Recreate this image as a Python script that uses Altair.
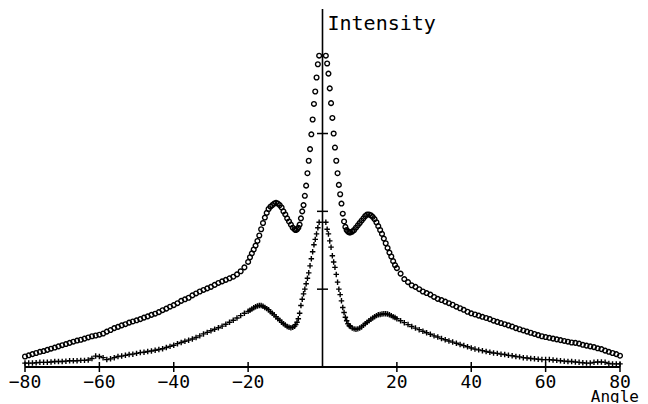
import altair as alt
import pandas as pd

# ---- sampling grid of the scan (degrees, positive side) ----
center_grid = [round(0.9 + 0.35 * i, 2) for i in range(19)]    # 0.9 .. 7.2
mid_grid = [round(7.5 + 0.5 * i, 1) for i in range(25)]         # 7.5 .. 19.5
tail_grid = [float(20 + i) for i in range(61)]                  # 20 .. 80
pos_angles = center_grid + mid_grid + tail_grid
neg_angles = [-a for a in reversed(pos_angles)]

# ---- series "o" (circles) ----
circles_left = [
    # -80 .. -20
    0.135, 0.15, 0.165, 0.18, 0.195, 0.205, 0.22, 0.235, 0.25, 0.265,
    0.28, 0.295, 0.31, 0.325, 0.34, 0.35, 0.365, 0.38, 0.395, 0.405,
    0.415, 0.43, 0.455, 0.475, 0.50, 0.515, 0.535, 0.55, 0.57, 0.585,
    0.60, 0.615, 0.635, 0.65, 0.67, 0.685, 0.705, 0.73, 0.75, 0.775,
    0.795, 0.82, 0.85, 0.87, 0.89, 0.92, 0.945, 0.97, 0.99, 1.01,
    1.03, 1.055, 1.08, 1.10, 1.12, 1.14, 1.16, 1.19, 1.23, 1.28,
    1.35,
    # -19.5 .. -7.5
    1.41, 1.46, 1.51, 1.56, 1.62, 1.69, 1.77, 1.85, 1.92, 1.98,
    2.03, 2.06, 2.08, 2.10, 2.11, 2.10, 2.08, 2.05, 2.00, 1.96,
    1.91, 1.87, 1.83, 1.79, 1.77,
    # -7.2 .. -0.9
    1.76, 1.77, 1.79, 1.83, 1.91, 2.00, 2.08, 2.20, 2.33, 2.49,
    2.65, 2.80, 2.99, 3.18, 3.38, 3.54, 3.72, 3.89, 4.00,
]
circles_right = [
    # 0.9 .. 7.2
    4.00, 3.90, 3.77, 3.58, 3.39, 3.20, 3.00, 2.82, 2.65, 2.49,
    2.34, 2.22, 2.10, 1.97, 1.87, 1.80, 1.76, 1.74, 1.73,
    # 7.5 .. 19.5
    1.73, 1.74, 1.76, 1.79, 1.82, 1.85, 1.88, 1.91, 1.94, 1.96,
    1.96, 1.95, 1.93, 1.90, 1.86, 1.81, 1.76, 1.71, 1.65, 1.59,
    1.53, 1.47, 1.42, 1.36, 1.31,
    # 20 .. 80
    1.27, 1.20, 1.13, 1.09, 1.05, 1.03, 1.00, 0.97, 0.95, 0.93,
    0.90, 0.875, 0.86, 0.84, 0.82, 0.80, 0.775, 0.755, 0.735, 0.71,
    0.69, 0.675, 0.66, 0.645, 0.63, 0.615, 0.595, 0.58, 0.565, 0.55,
    0.535, 0.52, 0.50, 0.485, 0.47, 0.455, 0.44, 0.425, 0.41, 0.395,
    0.385, 0.375, 0.365, 0.355, 0.345, 0.335, 0.325, 0.315, 0.31, 0.30,
    0.285, 0.275, 0.265, 0.255, 0.24, 0.23, 0.21, 0.195, 0.18, 0.165,
    0.145,
]

# ---- series "+" (crosses) ----
crosses_left = [
    # -80 .. -20
    0.05, 0.05, 0.05, 0.055, 0.06, 0.06, 0.06, 0.065, 0.07, 0.07,
    0.07, 0.075, 0.08, 0.08, 0.08, 0.085, 0.085, 0.09, 0.11, 0.14,
    0.135, 0.12, 0.095, 0.105, 0.12, 0.135, 0.14, 0.15, 0.16, 0.165,
    0.175, 0.185, 0.19, 0.20, 0.205, 0.215, 0.225, 0.235, 0.25, 0.265,
    0.28, 0.30, 0.315, 0.33, 0.345, 0.36, 0.38, 0.40, 0.425, 0.445,
    0.465, 0.485, 0.505, 0.525, 0.55, 0.575, 0.60, 0.63, 0.66, 0.69,
    0.715,
    # -19.5 .. -7.5
    0.73, 0.745, 0.76, 0.775, 0.785, 0.79, 0.79, 0.78, 0.765, 0.75,
    0.735, 0.71, 0.69, 0.67, 0.645, 0.62, 0.60, 0.575, 0.555, 0.54,
    0.52, 0.51, 0.505, 0.51, 0.525,
    # -7.2 .. -0.9
    0.545, 0.575, 0.62, 0.69, 0.79, 0.87, 0.94, 1.00, 1.07, 1.14,
    1.21, 1.30, 1.39, 1.48, 1.57, 1.64, 1.71, 1.79, 1.86,
]
crosses_right = [
    # 0.9 .. 7.2
    1.86, 1.77, 1.71, 1.62, 1.54, 1.43, 1.35, 1.28, 1.19, 1.09,
    1.00, 0.93, 0.85, 0.765, 0.70, 0.64, 0.595, 0.555, 0.53,
    # 7.5 .. 19.5
    0.52, 0.50, 0.49, 0.485, 0.49, 0.50, 0.515, 0.535, 0.555, 0.575,
    0.595, 0.615, 0.63, 0.645, 0.66, 0.67, 0.675, 0.68, 0.685, 0.685,
    0.68, 0.67, 0.66, 0.645, 0.635,
    # 20 .. 80
    0.62, 0.595, 0.57, 0.545, 0.52, 0.50, 0.48, 0.46, 0.44, 0.42,
    0.40, 0.385, 0.365, 0.35, 0.335, 0.32, 0.305, 0.29, 0.275, 0.26,
    0.245, 0.23, 0.22, 0.21, 0.20, 0.19, 0.18, 0.175, 0.165, 0.16,
    0.15, 0.145, 0.135, 0.13, 0.12, 0.115, 0.11, 0.105, 0.10, 0.095,
    0.095, 0.095, 0.09, 0.085, 0.08, 0.075, 0.07, 0.07, 0.065, 0.06,
    0.055, 0.05, 0.05, 0.06, 0.065, 0.065, 0.06, 0.045, 0.04, 0.04,
    0.04,
]

x_ticks = [-80, -60, -40, -20, 20, 40, 60, 80]
x_tick_labels = ["\u221280", "\u221260", "\u221240", "\u221220", "20", "40", "60", "80"]
y_ticks = [1, 2, 3]
x_title = "Angle"
y_title = "Intensity"
x_domain = [-80, 80]
y_domain = [0, 4.6]

angles = neg_angles + pos_angles
df_o = pd.DataFrame({"angle": angles, "intensity": circles_left + circles_right})
df_p = pd.DataFrame({"angle": angles, "intensity": crosses_left + crosses_right})

FONT = "DejaVu Sans Mono"
xs = alt.Scale(domain=x_domain, nice=False, zero=False)
ys = alt.Scale(domain=y_domain, nice=False, zero=False)


def X(f):
    return alt.X(f, type="quantitative", scale=xs, axis=None)


def Y(f):
    return alt.Y(f, type="quantitative", scale=ys, axis=None)


circles = alt.Chart(df_o).mark_point(
    shape="circle", filled=False, color="black", size=22, strokeWidth=1.4, opacity=1
).encode(x=X("angle"), y=Y("intensity"))

crosses = alt.Chart(df_p).mark_point(
    shape="M-1,0L1,0M0,-1L0,1", filled=False, color="black", size=30, strokeWidth=1.4, opacity=1
).encode(x=X("angle"), y=Y("intensity"))

x_axis = alt.Chart(pd.DataFrame({"a": [x_domain[0]], "b": [x_domain[1]], "y": [0]})).mark_rule(
    color="black", strokeWidth=1.8
).encode(x=X("a"), x2="b", y=Y("y"))

y_axis = alt.Chart(pd.DataFrame({"x": [0], "a": [y_domain[0]], "b": [y_domain[1]]})).mark_rule(
    color="black", strokeWidth=1.6
).encode(x=X("x"), y=Y("a"), y2="b")

xt_df = pd.DataFrame({"v": x_ticks, "lab": x_tick_labels, "y": [0] * len(x_ticks)})
x_tick_marks = alt.Chart(xt_df).mark_tick(
    orient="vertical", size=10, thickness=1.5, color="black", opacity=1
).encode(x=X("v"), y=Y("y"))
x_tick_text = alt.Chart(xt_df).mark_text(
    font=FONT, fontSize=18, dy=16, color="black"
).encode(x=X("v"), y=Y("y"), text="lab")

yt_df = pd.DataFrame({"v": y_ticks, "x": [0] * len(y_ticks)})
y_tick_marks = alt.Chart(yt_df).mark_tick(
    orient="horizontal", size=11, thickness=1.5, color="black", opacity=1
).encode(x=X("x"), y=Y("v"))

title_df = pd.DataFrame({"x": [0, x_domain[1]], "y": [y_domain[1], 0], "t": [y_title, x_title]})
y_title_text = alt.Chart(title_df.iloc[[0]]).mark_text(
    font=FONT, fontSize=20, align="left", baseline="top", dx=5, dy=5, color="black"
).encode(x=X("x"), y=Y("y"), text="t")
x_title_text = alt.Chart(title_df.iloc[[1]]).mark_text(
    font=FONT, fontSize=16, align="right", baseline="alphabetic", dx=19, dy=35, color="black"
).encode(x=X("x"), y=Y("y"), text="t")

chart = alt.layer(
    x_axis, y_axis, x_tick_marks, y_tick_marks, circles, crosses,
    x_tick_text, y_title_text, x_title_text,
).properties(
    width=595, height=358,
    padding={"left": 17, "top": 1, "right": 20, "bottom": 36},
    autosize=alt.AutoSizeParams(type="none"),
).configure_view(stroke=None)

chart.save("out.html", embed_options={"renderer": "svg", "actions": False})
